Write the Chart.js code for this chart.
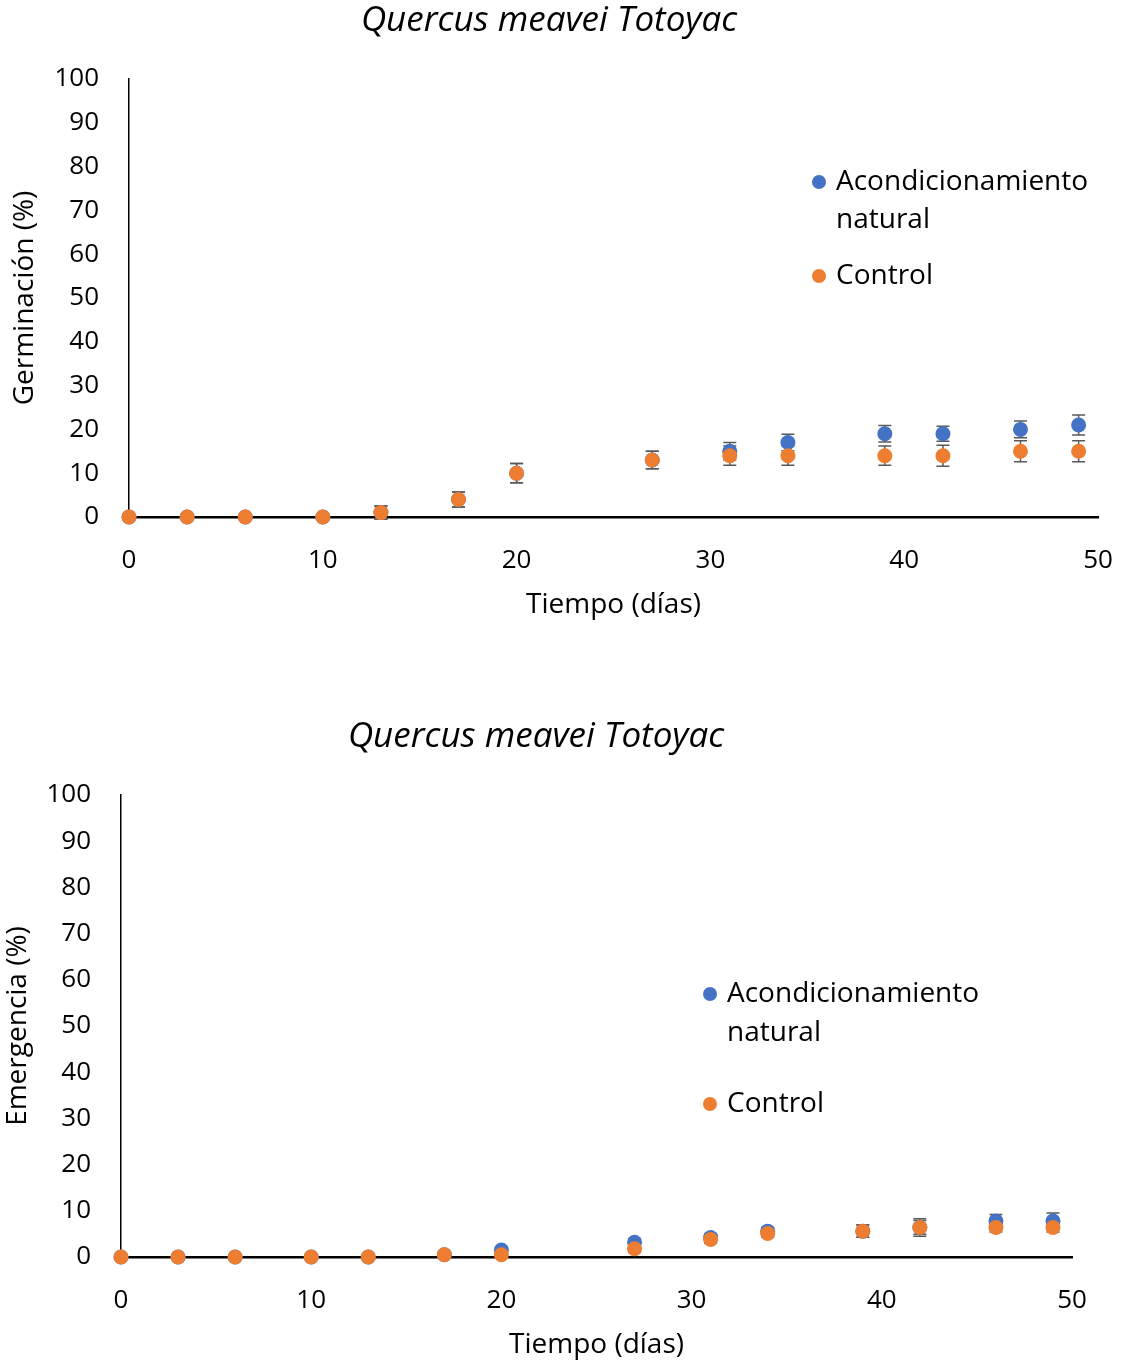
<!DOCTYPE html>
<html>
<head>
<meta charset="utf-8">
<script src="https://cdn.jsdelivr.net/npm/chart.js@4.4.1/dist/chart.umd.min.js"></script>
<style>
  body { margin: 0; background: #fff; }
  .box { position: relative; width: 1123px; }
  canvas { display: block; }
</style>
</head>
<body>
<div class="box" style="height:660px"><canvas id="germChart" width="1123" height="660"></canvas></div>
<div class="box" style="height:706px"><canvas id="emerChart" width="1123" height="706"></canvas></div>
<script>
// days of observation
const days = [0, 3, 6, 10, 13, 17, 20, 27, 31, 34, 39, 42, 46, 49];

// germination (%)
const germAcond = [0, 0, 0, 0, 1, 4, 10, 13, 15, 17, 19, 19, 20, 21];
const germAcondErr = [0, 0, 0, 0, 1.5, 1.7, 2.2, 2, 2, 1.9, 1.9, 1.7, 1.9, 2.3];
const germControl = [0, 0, 0, 0, 1, 4, 10, 13, 14, 14, 14, 14, 15, 15];
const germControlErr = [0, 0, 0, 0, 1.5, 1.7, 2.2, 2, 2.2, 2.2, 2.2, 2.4, 2.4, 2.4];

// emergence (%)
const emerAcond = [0, 0, 0, 0, 0, 0.5, 1.5, 3.2, 4.2, 5.6, 5.6, 6.4, 7.8, 7.8];
const emerAcondErr = [0, 0, 0, 0, 0, 0.5, 0.6, 0.8, 0.8, 0.8, 1.3, 1.5, 1.4, 1.7];
const emerControl = [0, 0, 0, 0, 0, 0.5, 0.5, 1.8, 3.8, 5.1, 5.6, 6.4, 6.4, 6.4];
const emerControlErr = [0, 0, 0, 0, 0, 0.5, 0.5, 0.8, 0.8, 0.8, 1.3, 1.9, 1, 1];

const xTicks = [0, 10, 20, 30, 40, 50];
const yTicks = [0, 10, 20, 30, 40, 50, 60, 70, 80, 90, 100];

const seriesNames = ['Acondicionamiento natural', 'Control'];
const BLUE = '#4472C4';
const ORANGE = '#ED7D31';
const FONT = "'Open Sans', sans-serif";

const toPoints = (ys) => days.map((d, i) => ({ x: d, y: ys[i] }));

// draws the vertical error bars under the markers
const errorBars = {
  id: 'errorBars',
  beforeDatasetsDraw(chart) {
    const { ctx, scales: { x, y } } = chart;
    ctx.save();
    ctx.strokeStyle = '#595959';
    ctx.lineWidth = 1.5;
    chart.data.datasets.forEach(ds => {
      ds.data.forEach((p, i) => {
        const e = ds.errors[i];
        if (!e) return;
        const px = x.getPixelForValue(p.x);
        const top = y.getPixelForValue(p.y + e);
        const bot = y.getPixelForValue(p.y - e);
        ctx.beginPath();
        ctx.moveTo(px, top); ctx.lineTo(px, bot);
        ctx.moveTo(px - 6.5, top); ctx.lineTo(px + 6.5, top);
        ctx.moveTo(px - 6.5, bot); ctx.lineTo(px + 6.5, bot);
        ctx.stroke();
      });
    });
    ctx.restore();
  }
};

// legend sits inside the plot, like the original
function makeLegend(pos) {
  return {
    id: 'insideLegend',
    afterDraw(chart) {
      const ctx = chart.ctx;
      ctx.save();
      ctx.font = '28px ' + FONT;
      ctx.textBaseline = 'middle';
      const rows = [
        { color: BLUE, lines: ['Acondicionamiento', 'natural'], y: pos.y1 },
        { color: ORANGE, lines: ['Control'], y: pos.y2 }
      ];
      rows.forEach(r => {
        ctx.beginPath();
        ctx.fillStyle = r.color;
        ctx.arc(pos.x, r.y, 7, 0, Math.PI * 2);
        ctx.fill();
        ctx.fillStyle = '#000';
        r.lines.forEach((t, k) => ctx.fillText(t, pos.x + 17, r.y + k * pos.gap));
      });
      ctx.restore();
    }
  };
}

function buildChart(id, cfg) {
  return new Chart(document.getElementById(id), {
    type: 'scatter',
    data: {
      datasets: [
        {
          label: seriesNames[0], data: toPoints(cfg.acond), errors: cfg.acondErr,
          backgroundColor: BLUE, borderColor: BLUE, pointRadius: 7.5, pointHoverRadius: 7.5,
          borderWidth: 0, order: 2, clip: false
        },
        {
          label: seriesNames[1], data: toPoints(cfg.control), errors: cfg.controlErr,
          backgroundColor: ORANGE, borderColor: ORANGE, pointRadius: 7.5, pointHoverRadius: 7.5,
          borderWidth: 0, order: 1, clip: false
        }
      ]
    },
    options: {
      responsive: false,
      animation: false,
      layout: { padding: cfg.padding },
      plugins: {
        legend: { display: false },
        tooltip: { enabled: false },
        title: {
          display: true,
          text: 'Quercus meavei Totoyac',
          color: '#000',
          font: { family: FONT, size: 35, style: 'italic', weight: 'normal' },
          padding: cfg.titlePad
        }
      },
      scales: {
        x: {
          type: 'linear', min: 0, max: 50,
          afterBuildTicks: s => { s.ticks = xTicks.map(v => ({ value: v })); },
          afterFit: s => { s.height = 105; s.paddingLeft = 0; s.paddingRight = 0; },
          grid: { display: false, drawTicks: false },
          border: { display: true, color: '#000', width: 2.5 },
          ticks: { color: '#000', padding: 28, font: { family: FONT, size: 26 } },
          title: {
            display: true, text: 'Tiempo (días)', color: '#000',
            font: { family: FONT, size: 28 }, padding: { top: 0, bottom: 0 }
          }
        },
        y: {
          type: 'linear', min: 0, max: 100,
          afterBuildTicks: s => { s.ticks = yTicks.map(v => ({ value: v })); },
          afterFit: s => { s.width = cfg.yWidth; s.paddingTop = 0; s.paddingBottom = 0; },
          grid: { display: false, drawTicks: false },
          border: { display: true, color: '#000', width: 1.5 },
          ticks: { color: '#000', padding: 30, font: { family: FONT, size: 26 } },
          title: {
            display: true, text: cfg.yTitle, color: '#000',
            font: { family: FONT, size: 28 }, padding: { top: cfg.yTitlePad, bottom: 0 }
          }
        }
      }
    },
    plugins: [errorBars, makeLegend(cfg.legend)]
  });
}

buildChart('germChart', {
  acond: germAcond, acondErr: germAcondErr,
  control: germControl, controlErr: germControlErr,
  yTitle: 'Germinación (%)',
  yWidth: 129, yTitlePad: 8,
  padding: { top: 0, left: 0, right: 25, bottom: 38 },
  titlePad: { top: 0, bottom: 37 },
  legend: { x: 819, y1: 182, y2: 276, gap: 38 }
});

buildChart('emerChart', {
  acond: emerAcond, acondErr: emerAcondErr,
  control: emerControl, controlErr: emerControlErr,
  yTitle: 'Emergencia (%)',
  yWidth: 121, yTitlePad: 1,
  padding: { top: 0, left: 0, right: 51, bottom: 4 },
  titlePad: { top: 56, bottom: 37 },
  legend: { x: 710, y1: 334, y2: 444, gap: 39 }
});
</script>
</body>
</html>
